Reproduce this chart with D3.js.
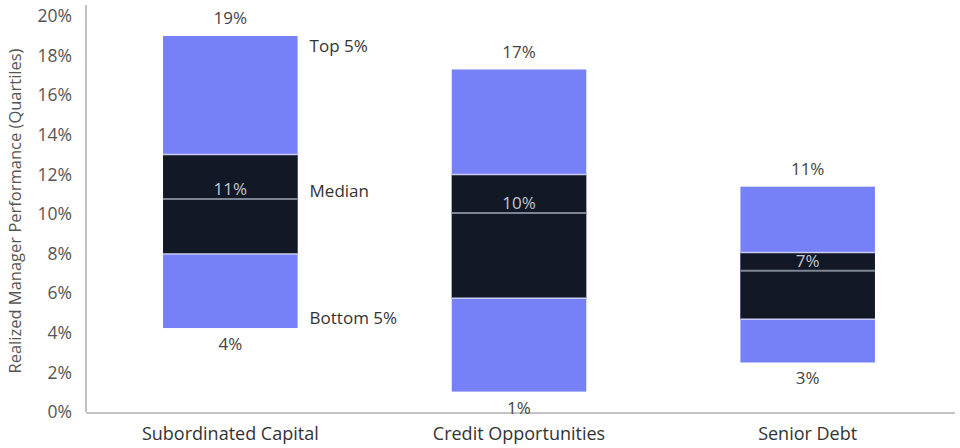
<!DOCTYPE html>
<html>
<head>
<meta charset="utf-8">
<script src="https://cdn.jsdelivr.net/npm/d3@7"></script>
<style>
  html, body { margin: 0; padding: 0; background: #fff; }
  svg { display: block; }
  text { font-family: "Open Sans", "Noto Sans", sans-serif; }
</style>
</head>
<body>
<svg id="chart" width="960" height="448"></svg>
<script>
// ---- data ----
const categories = ["Subordinated Capital", "Credit Opportunities", "Senior Debt"];
const top5 = [18.99, 17.3, 11.38];      // top 5% value
const upperQ = [13.0, 12.0, 8.05];       // upper quartile
const median = [10.76, 10.05, 7.14];     // median
const lowerQ = [7.98, 5.74, 4.68];       // lower quartile
const bottom5 = [4.24, 1.03, 2.5];       // bottom 5% value
const yTicks = [0, 2, 4, 6, 8, 10, 12, 14, 16, 18, 20];
const sideLabels = ["Top 5%", "Median", "Bottom 5%"];

const rows = categories.map((c, i) => ({
  cat: c, top: top5[i], uq: upperQ[i], med: median[i], lq: lowerQ[i], bot: bottom5[i]
}));

const svg = d3.select("#chart");
const x = d3.scaleBand().domain(categories).range([86, 952]).padding(0);
const y = d3.scaleLinear().domain([0, 20]).range([412, 16]);
const barW = x.bandwidth() * 0.466;
const cx = d => x(d.cat) + x.bandwidth() / 2;

const blue = "#7781f7", dark = "#121826";

// y axis
const yAxis = svg.append("g").attr("transform", "translate(86,0)")
  .call(d3.axisLeft(y).tickValues(yTicks).tickSize(0).tickPadding(14)
    .tickFormat(d => d + "%"));
yAxis.select(".domain").attr("stroke", "#9a9a9a").attr("stroke-width", 1.2)
  .attr("d", "M0,5V412");
yAxis.selectAll("text").attr("fill", "#555").style("font-size", "17.5px")
  .style("font-family", "\"Open Sans\", sans-serif");

// axis title
svg.append("text")
  .attr("transform", "translate(15,211) rotate(-90)")
  .attr("text-anchor", "middle").attr("dy", "0.35em")
  .attr("fill", "#555").style("font-size", "16.5px")
  .text("Realized Manager Performance (Quartiles)");

// baseline
svg.append("line").attr("x1", 86).attr("x2", 955).attr("y1", 413).attr("y2", 413)
  .attr("stroke", "#c4c4c4").attr("stroke-width", 2);

// x axis labels
svg.append("g").selectAll("text").data(rows).join("text")
  .attr("x", cx).attr("y", 434).attr("dy", "0.35em")
  .attr("text-anchor", "middle").attr("fill", "#333").style("font-size", "18px")
  .text(d => d.cat);

const g = svg.append("g");
// blue full range
g.selectAll("rect.range").data(rows).join("rect").attr("class", "range")
  .attr("x", d => cx(d) - barW / 2).attr("width", barW)
  .attr("y", d => y(d.top)).attr("height", d => y(d.bot) - y(d.top))
  .attr("fill", blue);
// dark IQR box
g.selectAll("rect.iqr").data(rows).join("rect").attr("class", "iqr")
  .attr("x", d => cx(d) - barW / 2).attr("width", barW)
  .attr("y", d => y(d.uq)).attr("height", d => y(d.lq) - y(d.uq))
  .attr("fill", dark);
// light separators
g.selectAll("line.sepTop").data(rows).join("line").attr("class", "sepTop")
  .attr("x1", d => cx(d) - barW / 2).attr("x2", d => cx(d) + barW / 2)
  .attr("y1", d => y(d.uq)).attr("y2", d => y(d.uq))
  .attr("stroke", "#c9ccf6").attr("stroke-width", 1.5);
g.selectAll("line.sepBot").data(rows).join("line").attr("class", "sepBot")
  .attr("x1", d => cx(d) - barW / 2).attr("x2", d => cx(d) + barW / 2)
  .attr("y1", d => y(d.lq)).attr("y2", d => y(d.lq))
  .attr("stroke", "#c9ccf6").attr("stroke-width", 1.5);
// median line
g.selectAll("line.med").data(rows).join("line").attr("class", "med")
  .attr("x1", d => cx(d) - barW / 2).attr("x2", d => cx(d) + barW / 2)
  .attr("y1", d => y(d.med)).attr("y2", d => y(d.med))
  .attr("stroke", "#7d8494").attr("stroke-width", 2);

const fmt = v => Math.round(v) + "%";
// top labels
g.selectAll("text.top").data(rows).join("text").attr("class", "top")
  .attr("x", cx).attr("y", d => y(d.top) - 17.5).attr("dy", "0.35em")
  .attr("text-anchor", "middle").attr("fill", "#444").style("font-size", "17px")
  .text(d => fmt(d.top));
// bottom labels
g.selectAll("text.bot").data(rows).join("text").attr("class", "bot")
  .attr("x", cx).attr("y", d => y(d.bot) + 16).attr("dy", "0.35em")
  .attr("text-anchor", "middle").attr("fill", "#444").style("font-size", "17px")
  .text(d => fmt(d.bot));
// median labels
g.selectAll("text.medl").data(rows).join("text").attr("class", "medl")
  .attr("x", cx).attr("y", d => y(d.med) - 9.5).attr("dy", "0.35em")
  .attr("text-anchor", "middle").attr("fill", "#c3c7d0").style("font-size", "17px")
  .text(d => fmt(d.med));

// side labels for first category
const r0 = rows[0];
const sx = cx(r0) + barW / 2 + 12;
const sideY = [y(r0.top) + 10, y(r0.med) - 8, y(r0.bot) - 10];
svg.append("g").selectAll("text").data(sideLabels).join("text")
  .attr("x", sx).attr("y", (d, i) => sideY[i]).attr("dy", "0.35em")
  .attr("fill", "#333").style("font-size", "17px")
  .text(d => d);
</script>
</body>
</html>
